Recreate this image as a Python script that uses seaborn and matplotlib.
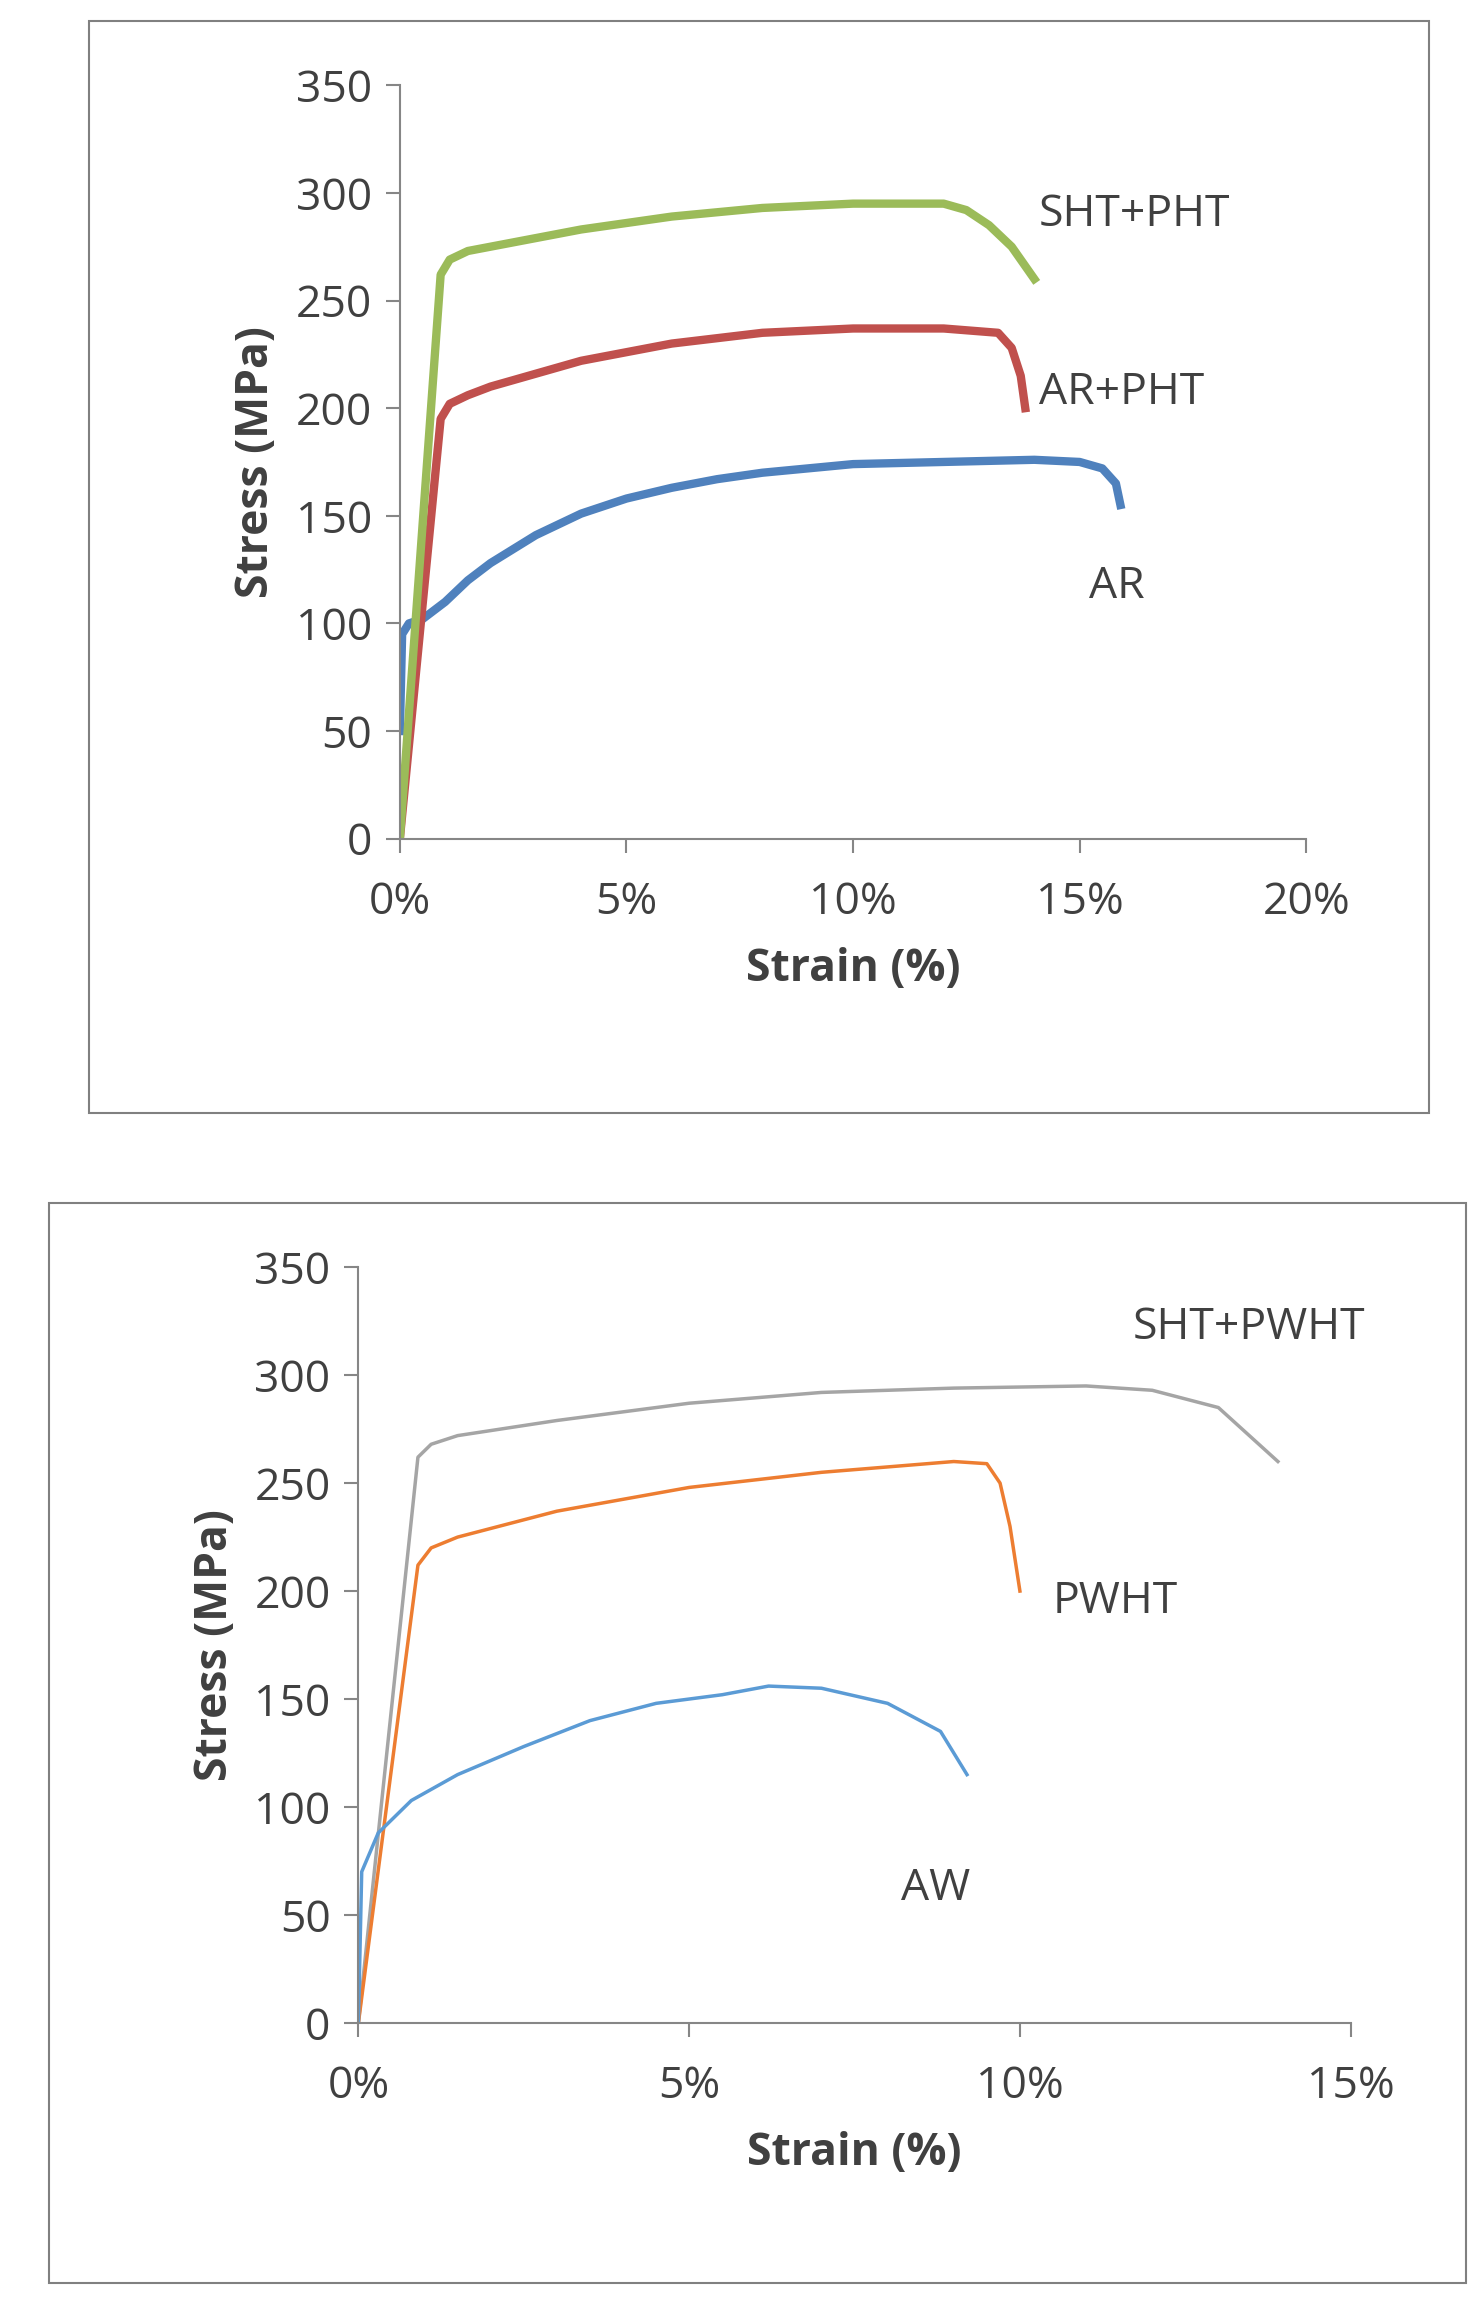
import matplotlib
matplotlib.use("Agg")
import matplotlib.pyplot as plt
import seaborn as sns
import pandas as pd
from matplotlib.patches import Rectangle
from matplotlib.ticker import FuncFormatter

# Top panel data (strain %, stress MPa)
ar_x = [0, 0.05, 0.2, 0.5, 1, 1.5, 2, 3, 4, 5, 6, 7, 8, 10, 12, 14, 15, 15.5, 15.8, 15.9]
ar_y = [50, 95, 100, 102, 110, 120, 128, 141, 151, 158, 163, 167, 170, 174, 175, 176, 175, 172, 165, 155]
arpht_x = [0, 0.9, 1.1, 1.5, 2, 3, 4, 6, 8, 10, 12, 13.2, 13.5, 13.7, 13.8]
arpht_y = [0, 195, 202, 206, 210, 216, 222, 230, 235, 237, 237, 235, 228, 215, 200]
shtpht_x = [0, 0.9, 1.1, 1.5, 2, 4, 6, 8, 10, 12, 12.5, 13, 13.5, 14]
shtpht_y = [0, 262, 269, 273, 275, 283, 289, 293, 295, 295, 292, 285, 275, 260]
# Bottom panel data
shtpwht_x = [0, 0.9, 1.1, 1.5, 3, 5, 7, 9, 11, 12, 13, 13.9]
shtpwht_y = [0, 262, 268, 272, 279, 287, 292, 294, 295, 293, 285, 260]
pwht_x = [0, 0.9, 1.1, 1.5, 3, 5, 7, 9, 9.5, 9.7, 9.85, 10]
pwht_y = [0, 212, 220, 225, 237, 248, 255, 260, 259, 250, 230, 200]
aw_x = [0, 0.05, 0.3, 0.8, 1.5, 2.5, 3.5, 4.5, 5.5, 6.2, 7, 8, 8.8, 9.2]
aw_y = [0, 70, 88, 103, 115, 128, 140, 148, 152, 156, 155, 148, 135, 115]

FONT = "Open Sans"
plt.rcParams["font.family"] = FONT
fig = plt.figure(figsize=(14.81, 23.04), dpi=100)
fig.patches.append(Rectangle((0.060, 0.517), 0.905, 0.474, transform=fig.transFigure,
                             fill=False, edgecolor="#808080", lw=1.5))
fig.patches.append(Rectangle((0.033, 0.009), 0.957, 0.469, transform=fig.transFigure,
                             fill=False, edgecolor="#808080", lw=1.5))

FS = 32

def style(ax, xmax, xticks):
    ax.set_xlim(0, xmax)
    ax.set_ylim(0, 350)
    ax.set_xticks(xticks)
    ax.set_yticks(range(0, 351, 50))
    ax.xaxis.set_major_formatter(FuncFormatter(lambda v, p: f"{v:.0f}%"))
    for s in ["top", "right"]:
        ax.spines[s].set_visible(False)
    for s in ["left", "bottom"]:
        ax.spines[s].set_color("#868686")
        ax.spines[s].set_linewidth(1.5)
    ax.tick_params(axis="both", colors="#868686", labelcolor="#404040", labelsize=FS,
                   length=10, width=1.5, direction="out")
    ax.tick_params(axis="x", pad=20)
    ax.tick_params(axis="y", pad=10)
    ax.set_xlabel("Strain (%)", fontsize=FS, fontweight="bold", color="#404040", labelpad=16)
    ax.set_ylabel("Stress (MPa)", fontsize=FS, fontweight="bold", color="#404040", labelpad=12)

ax1 = fig.add_axes([0.27, 0.636, 0.612, 0.327])
for x, y, c in [(ar_x, ar_y, "#4f81bd"), (arpht_x, arpht_y, "#c0504d"), (shtpht_x, shtpht_y, "#9bbb59")]:
    sns.lineplot(x=x, y=y, ax=ax1, color=c, lw=6, sort=False, estimator=None)
style(ax1, 20, [0, 5, 10, 15, 20])
ax1.text(14.1, 290, "SHT+PHT", fontsize=FS, color="#404040", va="center")
ax1.text(14.1, 207, "AR+PHT", fontsize=FS, color="#404040", va="center")
ax1.text(15.2, 117, "AR", fontsize=FS, color="#404040", va="center")

ax2 = fig.add_axes([0.242, 0.122, 0.670, 0.328])
for x, y, c in [(shtpwht_x, shtpwht_y, "#a5a5a5"), (pwht_x, pwht_y, "#ed7d31"), (aw_x, aw_y, "#5b9bd5")]:
    sns.lineplot(x=x, y=y, ax=ax2, color=c, lw=2.5, sort=False, estimator=None)
style(ax2, 15, [0, 5, 10, 15])
ax2.text(11.7, 322, "SHT+PWHT", fontsize=FS, color="#404040", va="center")
ax2.text(10.5, 195, "PWHT", fontsize=FS, color="#404040", va="center")
ax2.text(8.2, 62, "AW", fontsize=FS, color="#404040", va="center")

fig.savefig("out.png", dpi=100)
